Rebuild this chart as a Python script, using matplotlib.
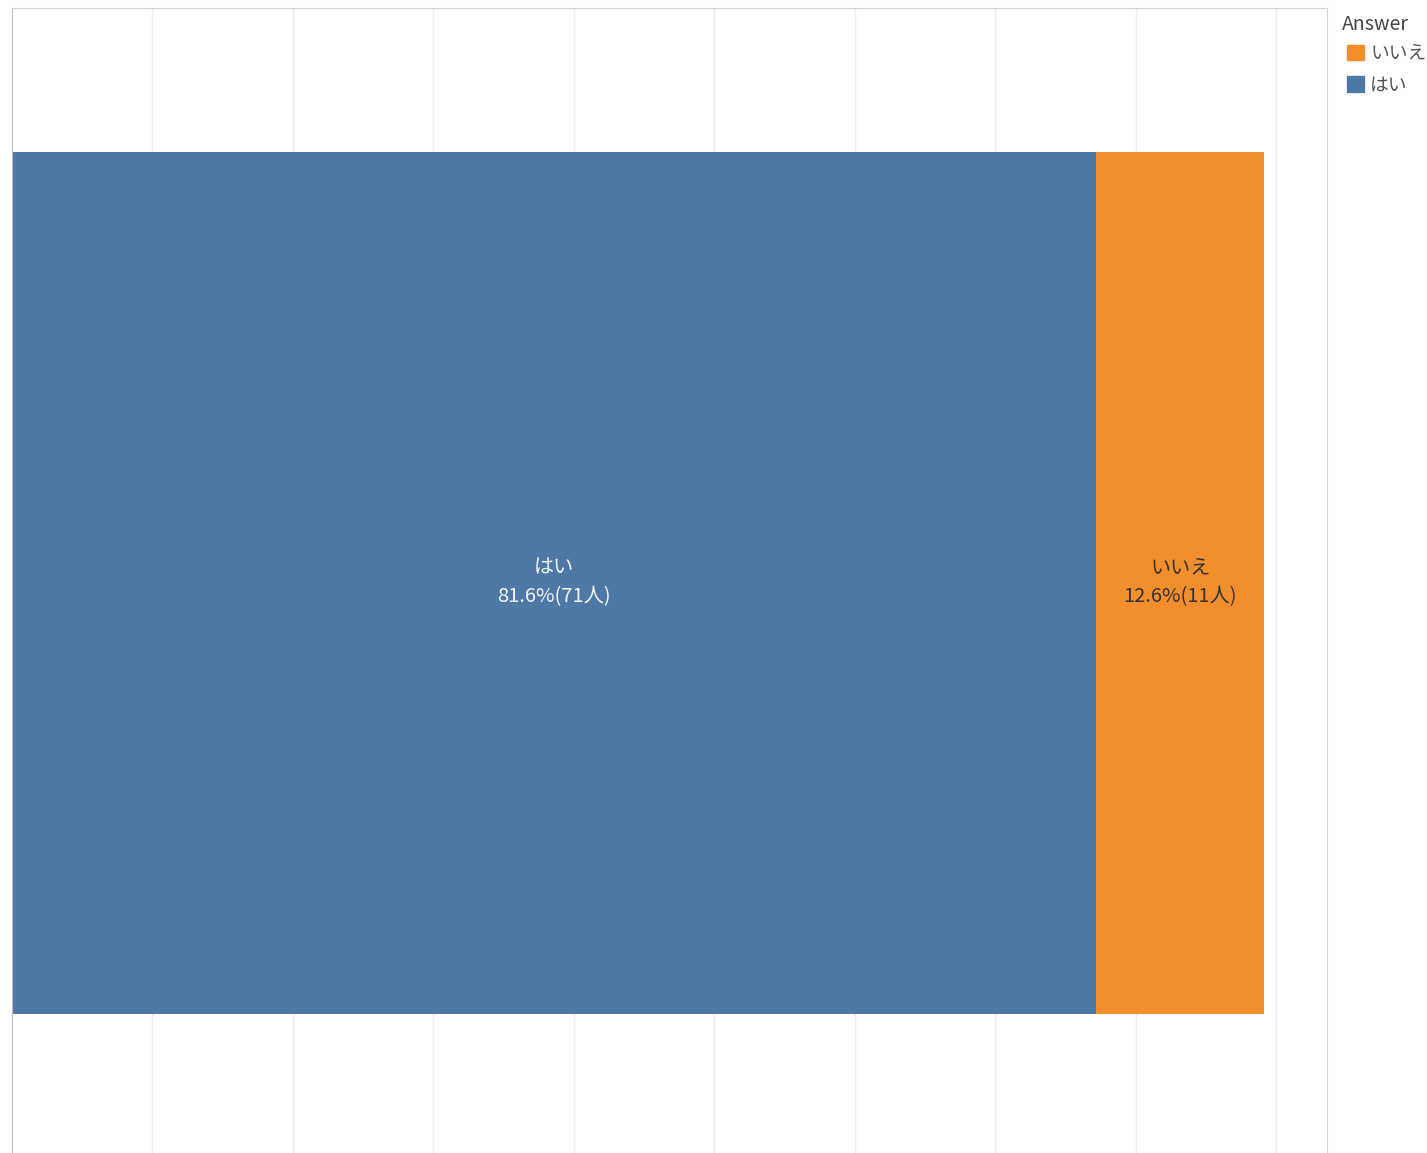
import matplotlib
matplotlib.use("Agg")
import matplotlib.pyplot as plt
import matplotlib.patches as mpatches
import numpy as np

plt.rcParams['font.family'] = ['Noto Sans CJK JP', 'DejaVu Sans']

# data
answers = ['はい', 'いいえ']
counts = np.array([71, 11])
pct_labels = [81.6, 12.6]
total = 92  # bar widths are counts / 92
colors = ['#4E79A7', '#F28E2B']
text_colors = ['#F5F5F5', '#333333']

fig = plt.figure(figsize=(14.27, 11.53), dpi=100)
ax = fig.add_axes([12/1427, 0, (1327-12)/1427, (1153-8)/1153])

widths = counts / total
left = 0
for ans, w, p, c, col, tc in zip(answers, widths, pct_labels, counts, colors, text_colors):
    ax.barh(0, w, left=left, height=1.0, color=col, zorder=2)
    ax.text(left + w/2, 0.018, ans, ha='center', va='center', fontsize=14.5, color=tc, zorder=3)
    ax.text(left + w/2, -0.016, f'{p}%({c}人)', ha='center', va='center', fontsize=14.5, color=tc, zorder=3)
    left += w

ax.set_xlim(0, 0.936)
ax.set_ylim(-0.661, 0.667)
ax.set_xticks(np.arange(0.1, 0.95, 0.1))
ax.set_yticks([])
ax.tick_params(axis='x', length=0, labelbottom=False)
ax.grid(axis='x', color='#eeeeee', linewidth=1, zorder=0)
ax.spines['bottom'].set_visible(False)
ax.spines['top'].set_color('#d4d4d4')
ax.spines['right'].set_color('#d4d4d4')
ax.spines['left'].set_color('#bdbdbd')

# legend
fig.text(1342/1427, 1 - 24/1153, 'Answer', fontsize=14, color='#444444', va='center', ha='left')
handles = [mpatches.Patch(color=colors[1], label=answers[1]),
           mpatches.Patch(color=colors[0], label=answers[0])]
fig.legend(handles=handles, loc='upper left', bbox_to_anchor=(1330/1427, 1 - 26/1153),
           frameon=False, fontsize=13.5, handlelength=0.9, handleheight=0.9,
           handletextpad=0.35, labelspacing=0.55, labelcolor='#555555')

fig.savefig('out.png', dpi=100)
